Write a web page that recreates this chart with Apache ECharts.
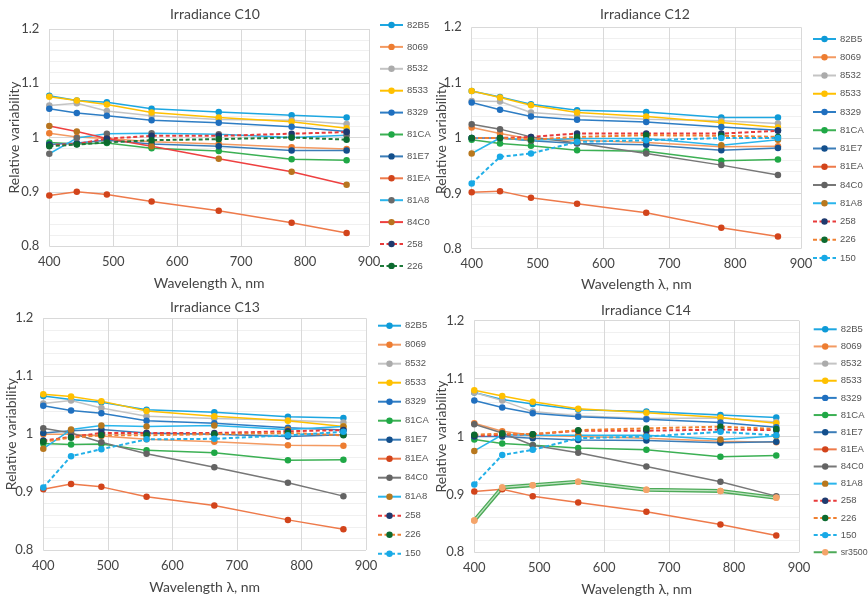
<!DOCTYPE html>
<html><head><meta charset="utf-8">
<script src="https://cdn.jsdelivr.net/npm/echarts@6/dist/echarts.min.js"></script>
<style>html,body{margin:0;padding:0;background:#fff}#c{width:868px;height:599px}</style>
</head><body><div id="c"></div>
<script>
// ---------- data ----------
const wavelengths = [400, 443, 490, 560, 665, 779, 865];
const xAxisMin = 400, xAxisMax = 900, xAxisStep = 100;
const yAxisMin = 0.8, yAxisMax = 1.2, yAxisStep = 0.1;

const c10Names = ['82B5','8069','8532','8533','8329','81CA','81E7','81EA','81A8','84C0','258','226'];
const c10Values = [
  [1.077, 1.068, 1.065, 1.053, 1.047, 1.041, 1.037],
  [1.008, 1.001, 0.998, 0.992, 0.988, 0.982, 0.979],
  [1.059, 1.063, 1.049, 1.040, 1.033, 1.032, 1.025],
  [1.075, 1.068, 1.061, 1.046, 1.037, 1.029, 1.017],
  [1.053, 1.045, 1.040, 1.032, 1.027, 1.020, 1.011],
  [0.991, 0.988, 0.990, 0.980, 0.975, 0.960, 0.958],
  [0.987, 0.990, 0.995, 0.988, 0.984, 0.976, 0.976],
  [0.893, 0.900, 0.895, 0.882, 0.865, 0.843, 0.824],
  [0.970, 0.999, 1.007, 1.008, 1.006, 1.000, 1.004],
  [1.021, 1.011, 0.998, 0.984, 0.961, 0.937, 0.913],
  [0.986, 0.988, 0.998, 1.003, 1.003, 1.007, 1.010],
  [0.984, 0.987, 0.991, 0.995, 0.997, 1.000, 0.996]
];

const c12Names = ['82B5','8069','8532','8533','8329','81CA','81E7','81EA','84C0','81A8','258','226','150'];
const c12Values = [
  [1.085, 1.074, 1.061, 1.050, 1.047, 1.037, 1.037],
  [1.019, 1.008, 0.998, 0.996, 0.992, 0.984, 0.985],
  [1.067, 1.066, 1.046, 1.040, 1.034, 1.031, 1.026],
  [1.085, 1.073, 1.059, 1.046, 1.039, 1.028, 1.019],
  [1.064, 1.051, 1.039, 1.033, 1.029, 1.020, 1.014],
  [0.997, 0.990, 0.986, 0.978, 0.976, 0.959, 0.961],
  [1.000, 1.000, 0.995, 0.990, 0.988, 0.978, 0.982],
  [0.902, 0.904, 0.892, 0.881, 0.865, 0.838, 0.822],
  [1.025, 1.016, 1.002, 0.991, 0.972, 0.951, 0.933],
  [0.972, 1.000, 0.996, 0.999, 0.999, 0.987, 0.997],
  [1.000, 1.000, 1.002, 1.008, 1.008, 1.008, 1.013],
  [1.000, 1.000, 0.997, 1.002, 1.005, 1.004, 1.002],
  [0.918, 0.966, 0.972, 0.993, 0.996, 1.000, 1.000]
];

const c13Names = ['82B5','8069','8532','8533','8329','81CA','81E7','81EA','84C0','81A8','258','226','150'];
const c13Values = [
  [1.066, 1.060, 1.055, 1.042, 1.038, 1.030, 1.028],
  [1.000, 1.000, 0.997, 0.991, 0.987, 0.981, 0.980],
  [1.053, 1.058, 1.045, 1.031, 1.027, 1.024, 1.020],
  [1.069, 1.065, 1.057, 1.040, 1.031, 1.023, 1.013],
  [1.049, 1.041, 1.036, 1.023, 1.019, 1.011, 1.007],
  [0.984, 0.982, 0.983, 0.972, 0.968, 0.955, 0.956],
  [1.002, 1.006, 1.008, 1.002, 1.000, 0.996, 0.999],
  [0.905, 0.914, 0.909, 0.892, 0.877, 0.852, 0.836],
  [1.010, 1.002, 0.986, 0.966, 0.943, 0.916, 0.893],
  [0.975, 1.008, 1.015, 1.013, 1.015, 1.008, 1.013],
  [0.989, 0.995, 1.002, 1.002, 1.002, 1.005, 1.007],
  [0.987, 0.994, 0.998, 0.998, 1.000, 1.002, 0.998],
  [0.908, 0.962, 0.974, 0.991, 0.992, 0.998, 1.004]
];

const c14Names = ['82B5','8069','8532','8533','8329','81CA','81E7','81EA','84C0','81A8','258','226','150','sr3500'];
const c14Values = [
  [1.076, 1.064, 1.056, 1.046, 1.043, 1.037, 1.033],
  [1.023, 1.009, 1.002, 1.000, 0.997, 0.992, 0.990],
  [1.076, 1.062, 1.043, 1.036, 1.031, 1.032, 1.025],
  [1.080, 1.070, 1.060, 1.048, 1.041, 1.033, 1.023],
  [1.062, 1.050, 1.040, 1.034, 1.030, 1.024, 1.016],
  [0.995, 0.988, 0.985, 0.980, 0.977, 0.965, 0.967],
  [1.000, 1.000, 0.997, 0.994, 0.993, 0.989, 0.991],
  [0.905, 0.909, 0.897, 0.886, 0.870, 0.848, 0.829],
  [1.021, 1.006, 0.985, 0.972, 0.948, 0.922, 0.897],
  [0.975, 1.003, 1.002, 1.002, 1.002, 0.995, 1.001],
  [1.001, 1.003, 1.004, 1.010, 1.010, 1.012, 1.011],
  [1.003, 1.005, 1.004, 1.011, 1.014, 1.017, 1.013],
  [0.917, 0.968, 0.977, 0.997, 1.000, 1.008, 1.002],
  [0.855, 0.912, 0.916, 0.922, 0.908, 0.906, 0.894]
];

// ---------- styles ----------
const baseStyles = {
  '82B5': {line:'#1EA7E1', marker:'#0E9AD7'},
  '8069': {line:'#F39A62', marker:'#ED7D31'},
  '8532': {line:'#C4C4C4', marker:'#ABABAB'},
  '8533': {line:'#FFC000', marker:'#FFC000'},
  '8329': {line:'#2E7DC4', marker:'#1F6FBF'},
  '81CA': {line:'#3CB054', marker:'#1FA846'},
  '81E7': {line:'#3B7DB8', marker:'#134F8C'},
  '81EA': {line:'#EE7A4A', marker:'#D2441B'},
  '84C0': {line:'#777777', marker:'#636363'},
  '81A8': {line:'#2AB5EC', marker:'#B8781E'},
  '258':  {line:'#E83A3A', marker:'#1F3A6E', dashed:true},
  '226':  {line:'#F08030', marker:'#0C6A2F', dashed:true},
  '150':  {line:'#22B0E8', marker:'#18A9E6', dashed:true},
  'sr3500': {line:'#4DAA58', marker:'#F4A46A', thick:true}
};
const c10Overrides = {
  '81A8': {line:'#2AB5EC', marker:'#6A6A6A'},
  '84C0': {line:'#EE4040', marker:'#B8741E'},
  '226':  {line:'#1E7A3A', marker:'#0C6A2F', dashed:true}
};

const panels = [
  {key:'C10', title:'Irradiance C10', names:c10Names, values:c10Values, over:c10Overrides,
   grid:{left:49.3, top:29, width:319.7, height:217}, title_xy:[215,7],
   legend:{left:379, top:18, gap:7.9}, yGap:28, xGap:30},
  {key:'C12', title:'Irradiance C12', names:c12Names, values:c12Values, over:{},
   grid:{left:471.7, top:27.3, width:329.3, height:221.4}, title_xy:[645,7],
   legend:{left:812, top:32, gap:4.25}, yGap:23.5, xGap:29},
  {key:'C13', title:'Irradiance C13', names:c13Names, values:c13Values, over:{},
   grid:{left:43.3, top:318.3, width:322.7, height:231.7}, title_xy:[215,300],
   legend:{left:377, top:318.7, gap:5}, yGap:24.5, xGap:30},
  {key:'C14', title:'Irradiance C14', names:c14Names, values:c14Values, over:{},
   grid:{left:474.3, top:320.7, width:324.7, height:231.6}, title_xy:[646,303],
   legend:{left:812.7, top:322.3, gap:3.15}, yGap:26, xGap:30}
];

const FONT = 'Lato';
const LEGFONT = '"Liberation Sans", sans-serif';
const TXT = '#454545';
const grids = [], xAxes = [], yAxes = [], legends = [], series = [], graphics = [];

panels.forEach((p, i) => {
  grids.push(Object.assign({containLabel:false}, p.grid));
  xAxes.push({
    type:'value', gridIndex:i, min:xAxisMin, max:xAxisMax, interval:xAxisStep,
    name:'Wavelength \u03BB, nm', nameLocation:'middle', nameGap:p.xGap,
    nameTextStyle:{fontFamily:FONT, fontSize:14, color:TXT},
    axisLine:{show:false}, axisTick:{show:false},
    axisLabel:{fontFamily:FONT, fontSize:13, color:TXT, margin:9},
    splitLine:{show:true, lineStyle:{color:'#D9D9D9', width:1}}
  });
  yAxes.push({
    type:'value', gridIndex:i, min:yAxisMin, max:yAxisMax, interval:yAxisStep,
    name:'Relative variability', nameLocation:'middle', nameGap:p.yGap, nameRotate:90,
    nameMoveOverlap:false,
    nameTextStyle:{fontFamily:FONT, fontSize:14, color:TXT},
    axisLine:{show:false}, axisTick:{show:false},
    axisLabel:{fontFamily:FONT, fontSize:13, color:TXT, margin:10,
      formatter: v => String(Math.round(v*10)/10)},
    splitLine:{show:true, lineStyle:{color:'#D9D9D9', width:1}},
    minorTick:{show:false, splitNumber:5},
    minorSplitLine:{show:true, lineStyle:{color:'#F0F0F0', width:1}}
  });
  const legendData = [];
  p.names.forEach((nm, k) => {
    const st = p.over[nm] || baseStyles[nm];
    const sname = p.key + '|' + nm;
    legendData.push(nm === 'sr3500' ? {name:sname, textStyle:{fontSize:8.8}} : sname);
    const pts = wavelengths.map((w, j) => [w, p.values[k][j]]);
    const s = {
      type:'line', name:sname, xAxisIndex:i, yAxisIndex:i, data:pts,
      symbol:'circle', symbolSize:6.5, showSymbol:true,
      itemStyle:{color:st.marker},
      lineStyle:{color:st.line, width: st.dashed ? 2 : 1.5, type: st.dashed ? [4,2.5] : 'solid'},
      emphasis:{disabled:true}, animation:false, z:2
    };
    if (st.thick) {
      s.lineStyle = {color:st.line, width:4};
      series.push(s);
      series.push({type:'line', name:'__sr_inner', xAxisIndex:i, yAxisIndex:i, data:pts,
        symbol:'none', lineStyle:{color:'#BFE3C2', width:1.3}, emphasis:{disabled:true}, animation:false, z:2, silent:true});
      series.push({type:'line', name:'__sr_marks', xAxisIndex:i, yAxisIndex:i, data:pts,
        symbol:'circle', symbolSize:6.5, itemStyle:{color:st.marker}, lineStyle:{width:0, opacity:0},
        emphasis:{disabled:true}, animation:false, z:3, silent:true});
    } else {
      series.push(s);
    }
  });
  legends.push({
    data:legendData, orient:'vertical', left:p.legend.left, top:p.legend.top,
    itemGap:p.legend.gap, itemWidth:23, itemHeight:8, padding:0, selectedMode:false,
    formatter: n => n.split('|')[1],
    textStyle:{fontFamily:LEGFONT, fontSize:9.5, lineHeight:14, color:'#555', padding:[0,0,0,-1]}
  });
  graphics.push({type:'text', x:p.title_xy[0], y:p.title_xy[1],
    style:{text:p.title, font:'14px Lato', fill:TXT, textAlign:'center'}});
});

const chart = echarts.init(document.getElementById('c'), null, {renderer:'canvas'});
chart.setOption({
  backgroundColor:'#fff', animation:false,
  grid:grids, xAxis:xAxes, yAxis:yAxes, legend:legends, series:series, graphic:graphics
});
</script></body></html>
